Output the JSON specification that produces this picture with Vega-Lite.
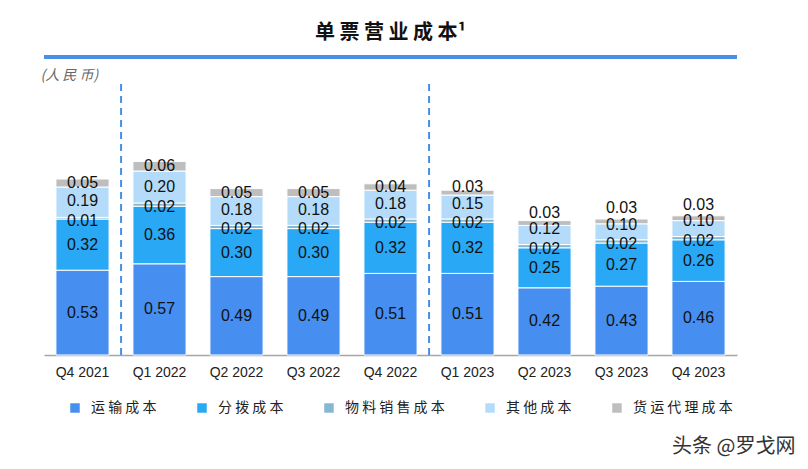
{
  "$schema": "https://vega.github.io/schema/vega-lite/v6.json",
  "width": 693,
  "height": 298,
  "autosize": {"type": "none"},
  "padding": {"left": 44, "top": 57, "right": 71, "bottom": 114},
  "background": "white",
  "config": {"view": {"stroke": null}, "font": "Liberation Sans"},
  "title": {"text": "单 票 营 业 成 本¹", "fontSize": 20, "fontWeight": "bold", "font": "Noto Sans CJK SC", "color": "#111111", "anchor": "middle", "offset": 12},
  "data": {"values": [
    {"q": "Q4 2021", "series": "运输成本", "v": 0.53},
    {"q": "Q4 2021", "series": "分拨成本", "v": 0.32},
    {"q": "Q4 2021", "series": "物料销售成本", "v": 0.01},
    {"q": "Q4 2021", "series": "其他成本", "v": 0.19},
    {"q": "Q4 2021", "series": "货运代理成本", "v": 0.05},
    {"q": "Q1 2022", "series": "运输成本", "v": 0.57},
    {"q": "Q1 2022", "series": "分拨成本", "v": 0.36},
    {"q": "Q1 2022", "series": "物料销售成本", "v": 0.02},
    {"q": "Q1 2022", "series": "其他成本", "v": 0.20},
    {"q": "Q1 2022", "series": "货运代理成本", "v": 0.06},
    {"q": "Q2 2022", "series": "运输成本", "v": 0.49},
    {"q": "Q2 2022", "series": "分拨成本", "v": 0.30},
    {"q": "Q2 2022", "series": "物料销售成本", "v": 0.02},
    {"q": "Q2 2022", "series": "其他成本", "v": 0.18},
    {"q": "Q2 2022", "series": "货运代理成本", "v": 0.05},
    {"q": "Q3 2022", "series": "运输成本", "v": 0.49},
    {"q": "Q3 2022", "series": "分拨成本", "v": 0.30},
    {"q": "Q3 2022", "series": "物料销售成本", "v": 0.02},
    {"q": "Q3 2022", "series": "其他成本", "v": 0.18},
    {"q": "Q3 2022", "series": "货运代理成本", "v": 0.05},
    {"q": "Q4 2022", "series": "运输成本", "v": 0.51},
    {"q": "Q4 2022", "series": "分拨成本", "v": 0.32},
    {"q": "Q4 2022", "series": "物料销售成本", "v": 0.02},
    {"q": "Q4 2022", "series": "其他成本", "v": 0.18},
    {"q": "Q4 2022", "series": "货运代理成本", "v": 0.04},
    {"q": "Q1 2023", "series": "运输成本", "v": 0.51},
    {"q": "Q1 2023", "series": "分拨成本", "v": 0.32},
    {"q": "Q1 2023", "series": "物料销售成本", "v": 0.02},
    {"q": "Q1 2023", "series": "其他成本", "v": 0.15},
    {"q": "Q1 2023", "series": "货运代理成本", "v": 0.03},
    {"q": "Q2 2023", "series": "运输成本", "v": 0.42},
    {"q": "Q2 2023", "series": "分拨成本", "v": 0.25},
    {"q": "Q2 2023", "series": "物料销售成本", "v": 0.02},
    {"q": "Q2 2023", "series": "其他成本", "v": 0.12},
    {"q": "Q2 2023", "series": "货运代理成本", "v": 0.03},
    {"q": "Q3 2023", "series": "运输成本", "v": 0.43},
    {"q": "Q3 2023", "series": "分拨成本", "v": 0.27},
    {"q": "Q3 2023", "series": "物料销售成本", "v": 0.02},
    {"q": "Q3 2023", "series": "其他成本", "v": 0.10},
    {"q": "Q3 2023", "series": "货运代理成本", "v": 0.03},
    {"q": "Q4 2023", "series": "运输成本", "v": 0.46},
    {"q": "Q4 2023", "series": "分拨成本", "v": 0.26},
    {"q": "Q4 2023", "series": "物料销售成本", "v": 0.02},
    {"q": "Q4 2023", "series": "其他成本", "v": 0.10},
    {"q": "Q4 2023", "series": "货运代理成本", "v": 0.03}
  ]},
  "layer": [
    {
      "transform": [
        {"calculate": "indexof(['运输成本','分拨成本','物料销售成本','其他成本','货运代理成本'], datum.series)", "as": "ord"},
        {"stack": "v", "groupby": ["q"], "sort": [{"field": "ord"}], "as": ["y0", "y1"]}
      ],
      "mark": {"type": "bar", "stroke": "white", "strokeWidth": 1},
      "encoding": {
        "x": {"field": "q", "type": "nominal", "sort": null,
          "scale": {"domain": ["Q4 2021","Q1 2022","Q2 2022","Q3 2022","Q4 2022","Q1 2023","Q2 2023","Q3 2023","Q4 2023"], "paddingInner": 0.31, "paddingOuter": 0.155},
          "axis": {"title": "头条 @罗戈网", "labelFontSize": 14, "labelColor": "#222222", "labelPadding": 10, "ticks": false, "domainColor": "#a6a6a6", "domainWidth": 1.5, "labelAngle": 0, "titleX": 751, "titleY": 91, "titleAlign": "right", "titleAnchor": null, "titleBaseline": "middle", "titleFontSize": 20, "titleFontWeight": "normal", "titleColor": "#333333", "titleFont": "Noto Sans CJK SC"}},
        "y": {"field": "y0", "type": "quantitative", "scale": {"domain": [0, 1.8625], "nice": false},
          "axis": {"title": "(人 民 币)", "labels": false, "ticks": false, "domain": false, "grid": false, "titleAngle": 0, "titleAlign": "left", "titleX": -4, "titleY": 18, "titleFont": "Noto Sans CJK SC", "titleFontStyle": "italic", "titleFontWeight": "normal", "titleColor": "#666666", "titleFontSize": 14, "titleBaseline": "middle"}},
        "y2": {"field": "y1"},
        "color": {"field": "series", "type": "nominal",
          "scale": {"domain": ["运输成本","分拨成本","物料销售成本","其他成本","货运代理成本"], "range": ["#468ff0","#29a8f5","#86b8d6","#b4dcfa","#bebebe"]},
          "legend": {"orient": "none", "legendX": 24, "legendY": 344, "direction": "horizontal", "title": null, "symbolType": "square", "symbolSize": 90, "symbolStrokeWidth": 0, "labelFontSize": 14, "labelFont": "Noto Sans CJK SC", "labelColor": "#222222", "columnPadding": 38, "labelOffset": 9, "labelLimit": 300, "labelExpr": "join(split(datum.label, ''), ' ')"}}
      }
    },
    {
      "transform": [
        {"calculate": "indexof(['运输成本','分拨成本','物料销售成本','其他成本','货运代理成本'], datum.series)", "as": "ord"},
        {"stack": "v", "groupby": ["q"], "sort": [{"field": "ord"}], "as": ["y0", "y1"]},
        {"calculate": "(datum.y0 + datum.y1) / 2", "as": "ym"},
        {"calculate": "datum.ord == 2 ? datum.ym : null", "as": "m2"},
        {"calculate": "datum.ord == 3 ? datum.ym : null", "as": "m3"},
        {"joinaggregate": [{"op": "max", "field": "m2", "as": "ym2"}, {"op": "max", "field": "m3", "as": "ym3"}], "groupby": ["q"]},
        {"calculate": "max(datum.ym3, datum.ym2 + 0.105)", "as": "adj3"},
        {"calculate": "datum.ord == 2 ? datum.ym - 0.015 : datum.ord == 3 ? datum.adj3 : datum.ord == 4 ? max(datum.ym, datum.adj3 + 0.105) : datum.ym", "as": "ylab"}
      ],
      "mark": {"type": "text", "fontSize": 16, "color": "#111111", "font": "Liberation Sans"},
      "encoding": {
        "x": {"field": "q", "type": "nominal", "sort": null},
        "y": {"field": "ylab", "type": "quantitative"},
        "text": {"field": "v", "type": "quantitative", "format": ".2f"}
      }
    },
    {
      "data": {"values": [{"q": "Q4 2021"}, {"q": "Q4 2022"}]},
      "mark": {"type": "rule", "strokeDash": [7, 5], "strokeWidth": 2, "color": "#4a8fe6", "xOffset": 12},
      "encoding": {
        "x": {"field": "q", "type": "nominal", "sort": null, "bandPosition": 1},
        "y": {"datum": 0},
        "y2": {"datum": 1.72}
      }
    },
    {
      "data": {"values": [{"t": 1}]},
      "mark": {"type": "rule", "strokeWidth": 4, "color": "#4a8fe6"},
      "encoding": {"y": {"datum": 1.8625}}
    }
  ]
}
